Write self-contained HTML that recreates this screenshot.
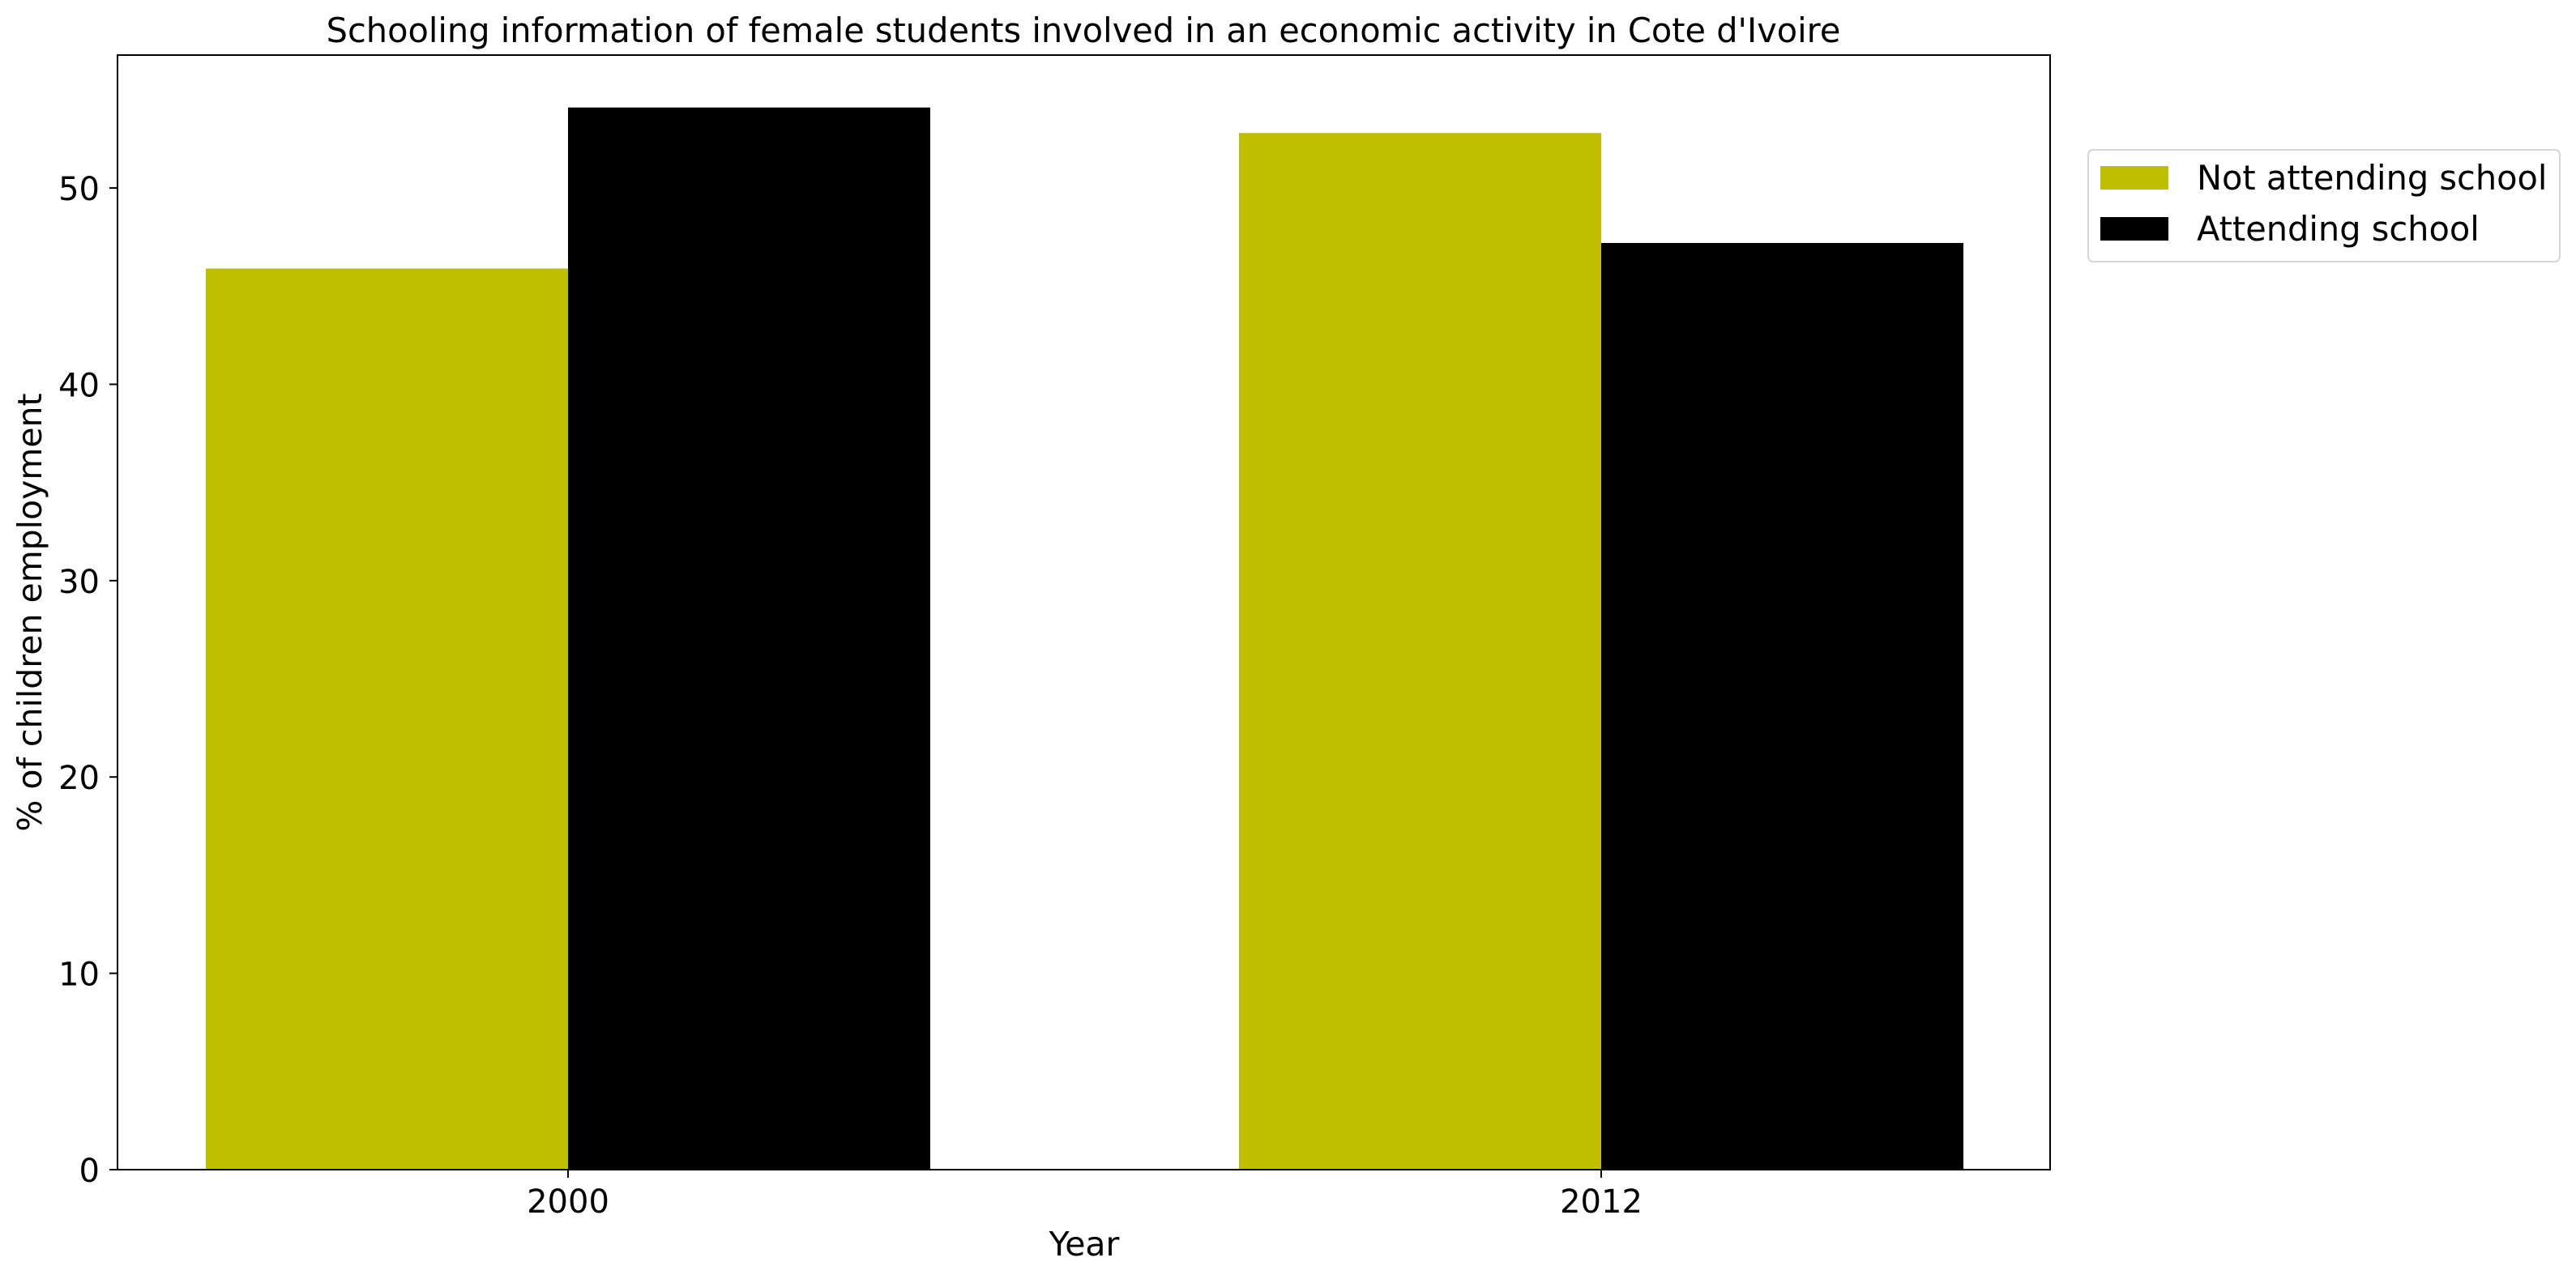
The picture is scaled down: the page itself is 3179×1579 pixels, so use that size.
<!DOCTYPE html>
<html><head><meta charset="utf-8"><style>
html,body{margin:0;padding:0;background:#fff;}
svg{display:block;font-family:"DejaVu Sans","Liberation Sans",sans-serif;}
</style></head><body>
<svg id="chart" width="3179" height="1579" viewBox="0 0 3179 1579" xmlns="http://www.w3.org/2000/svg">
<rect width="3179" height="1579" fill="#fff"/>
<text x="1337" y="52" font-size="41.5" text-anchor="middle">Schooling information of female students involved in an economic activity in Cote d'Ivoire</text>
<g id="bars"></g>
<g id="yticks"></g>
<g id="xticks"></g>
<rect x="145" y="68" width="2385" height="1376" fill="none" stroke="#000" stroke-width="2"/>
<text x="1338" y="1550" font-size="41" text-anchor="middle">Year</text>
<text transform="translate(51,756) rotate(-90)" font-size="41" text-anchor="middle">% of children employment</text>
<g>
<rect x="2577" y="185" width="582" height="138" rx="6" fill="#fff" stroke="#d5d5d5" stroke-width="2"/>
<rect x="2592" y="205" width="84" height="29" fill="#bfbf00"/>
<text x="2711" y="234" font-size="41.5">Not attending school</text>
<rect x="2592" y="268" width="84" height="29" fill="#000"/>
<text x="2711" y="297" font-size="41.5">Attending school</text>
</g>
</svg>
<script>
const categories = ["2000", "2012"];
const notAttending = [45.9, 52.8];
const attending = [54.1, 47.2];
const yTicks = [0, 10, 20, 30, 40, 50];

const NS = "http://www.w3.org/2000/svg";
const x0 = 145, x1 = 2530, yBase = 1444, yMax = 56.77;
const yScale = v => yBase - v * (1376 / yMax);
const xCenters = [701, 1976];
const xScale = i => xCenters[0] + i * (xCenters[1] - xCenters[0]);
const barW = 447;

const bars = document.getElementById("bars");
categories.forEach((c, i) => {
  const cx = xScale(i);
  const r1 = document.createElementNS(NS, "rect");
  r1.setAttribute("x", cx - barW);
  r1.setAttribute("y", yScale(notAttending[i]));
  r1.setAttribute("width", barW);
  r1.setAttribute("height", yBase - yScale(notAttending[i]));
  r1.setAttribute("fill", "#bfbf00");
  
  
  bars.appendChild(r1);
  const r2 = document.createElementNS(NS, "rect");
  r2.setAttribute("x", cx);
  r2.setAttribute("y", yScale(attending[i]));
  r2.setAttribute("width", barW);
  r2.setAttribute("height", yBase - yScale(attending[i]));
  r2.setAttribute("fill", "#000");
  
  
  bars.appendChild(r2);

  const xg = document.getElementById("xticks");
  const t = document.createElementNS(NS, "line");
  t.setAttribute("x1", cx); t.setAttribute("x2", cx);
  t.setAttribute("y1", yBase); t.setAttribute("y2", yBase + 10);
  t.setAttribute("stroke", "#000"); t.setAttribute("stroke-width", "2");
  
  
  xg.appendChild(t);
  const l = document.createElementNS(NS, "text");
  l.setAttribute("x", cx); l.setAttribute("y", 1497);
  l.setAttribute("font-size", "40"); l.setAttribute("text-anchor", "middle");
  l.textContent = c;
  
  
  xg.appendChild(l);
});

const yg = document.getElementById("yticks");
yTicks.forEach(v => {
  const y = yScale(v);
  const t = document.createElementNS(NS, "line");
  t.setAttribute("x1", x0 - 10); t.setAttribute("x2", x0);
  t.setAttribute("y1", y); t.setAttribute("y2", y);
  t.setAttribute("stroke", "#000"); t.setAttribute("stroke-width", "2");
  
  
  yg.appendChild(t);
  const l = document.createElementNS(NS, "text");
  l.setAttribute("x", 123); l.setAttribute("y", y + 15);
  l.setAttribute("font-size", "40"); l.setAttribute("text-anchor", "end");
  l.textContent = v;
  
  
  yg.appendChild(l);
});
</script>
</body></html>
